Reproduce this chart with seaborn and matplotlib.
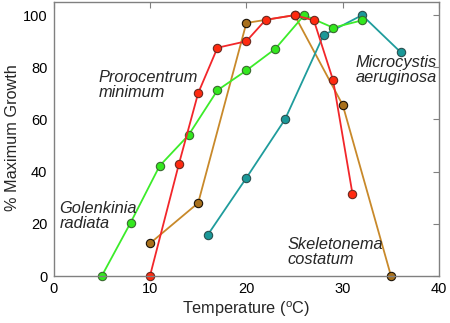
import matplotlib
matplotlib.use("Agg")
import matplotlib.pyplot as plt
import seaborn as sns
import pandas as pd

sns.set_style("white")
plt.rcParams['font.family'] = ['Liberation Sans', 'DejaVu Sans']
plt.rcParams['mathtext.fontset'] = 'custom'
plt.rcParams['mathtext.rm'] = 'Liberation Sans'

# Data
skel_t = [10, 15, 20, 25, 30, 35]
skel_g = [12.5, 28, 97, 100, 65.5, 0]
micro_t = [16, 20, 24, 28, 32, 36]
micro_g = [15.8, 37.6, 60, 92.3, 100, 85.8]
golen_t = [5, 8, 11, 14, 17, 20, 23, 26, 29, 32]
golen_g = [0, 20.5, 42.2, 54, 71.2, 78.8, 87.1, 100, 95.2, 98]
proro_t = [10, 13, 15, 17, 20, 22, 25, 27, 29, 31]
proro_g = [0, 42.9, 70.1, 87.5, 90, 98.2, 100, 98, 75, 31.6]

series = ["Skeletonema costatum", "Microcystis aeruginosa",
          "Golenkinia radiata", "Prorocentrum minimum"]
frames = []
for name, t, g in zip(series, [skel_t, micro_t, golen_t, proro_t],
                      [skel_g, micro_g, golen_g, proro_g]):
    frames.append(pd.DataFrame({"T": t, "G": g, "species": name}))
df = pd.concat(frames, ignore_index=True)

line_colors = {"Skeletonema costatum": "#c8892a",
               "Microcystis aeruginosa": "#1f9c9c",
               "Golenkinia radiata": "#3cec2a",
               "Prorocentrum minimum": "#f2262a"}
face_colors = {"Skeletonema costatum": "#a8701c",
               "Microcystis aeruginosa": "#1a9898",
               "Golenkinia radiata": "#33e81e",
               "Prorocentrum minimum": "#ff2a10"}
edge_colors = {"Skeletonema costatum": "#1a1208",
               "Microcystis aeruginosa": "#2a5050",
               "Golenkinia radiata": "#3a6a30",
               "Prorocentrum minimum": "#6a2a20"}

fig = plt.figure(figsize=(4.5, 3.23), dpi=100)
ax = fig.add_axes([0.119, 0.1455, 0.857, 0.848])

for name in series:
    sub = df[df.species == name]
    sns.lineplot(data=sub, x="T", y="G", ax=ax, color=line_colors[name],
                 lw=1.3, marker="o", markersize=6,
                 markerfacecolor=face_colors[name],
                 markeredgecolor=edge_colors[name], markeredgewidth=0.8,
                 sort=False, legend=False, estimator=None, clip_on=False)

ax.set_xlim(0, 40)
ax.set_ylim(0, 105)
ax.set_xticks([0, 10, 20, 30, 40])
ax.set_yticks([0, 20, 40, 60, 80, 100])
ax.tick_params(axis='both', which='both', direction='in', length=4,
               top=True, right=True, labelsize=10.5, color='#808080',
               labelcolor='black', pad=4.5)
for s in ax.spines.values():
    s.set_color('#808080')
    s.set_linewidth(1.0)
ax.set_xlabel("Temperature ($^{\\rm o}$C)", fontsize=11.7)
ax.set_ylabel("% Maximum Growth", fontsize=11.7)
ax.yaxis.set_label_coords(-0.087, 0.505)
ax.xaxis.set_label_coords(0.5, -0.085)

kw = dict(fontsize=11.8, style='italic', linespacing=1.0, va='top', ha='left')
ax.text(4.7, 79, "Prorocentrum\nminimum", **kw)
ax.text(0.6, 28.8, "Golenkinia\nradiata", **kw)
ax.text(31.3, 84.8, "Microcystis\naeruginosa", **kw)
ax.text(24.25, 15.0, "Skeletonema\ncostatum", **kw)

fig.savefig("out.png", dpi=100)
